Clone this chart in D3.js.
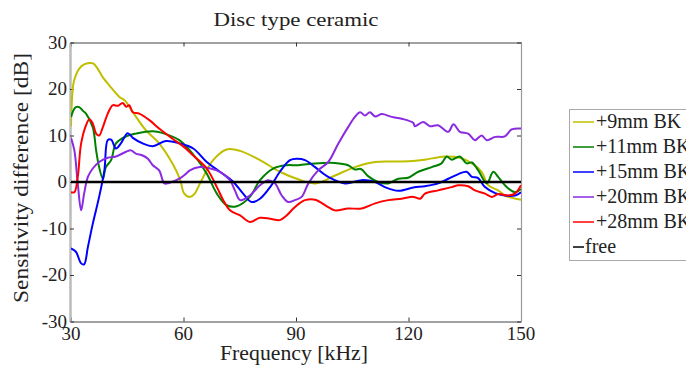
<!DOCTYPE html>
<html>
<head>
<meta charset="utf-8">
<script src="https://cdn.jsdelivr.net/npm/d3@7"></script>
<style>
  html, body { margin: 0; padding: 0; background: #fff; }
  svg { display: block; }
  text { font-family: "Liberation Serif", "Times New Roman", serif; fill: #222; }
</style>
</head>
<body>
<svg id="chart" width="686" height="367"></svg>
<script>
// Sensitivity difference vs frequency for a disc type ceramic transducer
const title = "Disc type ceramic";
const xLabel = "Frequency [kHz]";
const yLabel = "Sensitivity difference [dB]";
const xTicks = [30, 60, 90, 120, 150];
const yTicks = [30, 20, 10, 0, -10, -20, -30];

const seriesNames = ["+9mm BK", "+11mm BK", "+15mm BK", "+20mm BK", "+28mm BK", "free"];
const seriesColors = ["#bfbf00", "#008000", "#0000ff", "#8a2be2", "#ff0000", "#000000"];

// [frequency kHz, difference dB]
const bk9 = [
  [30,12],[30.6,21],[31.3,23],[32.2,24.4],[33.5,25.3],[34.9,25.6],[35.9,25.5],[37.1,24.4],
  [38.5,22.5],[40.2,20.8],[42.9,18.3],[44.4,17.5],[46.5,15],[50,11.1],[53.5,8.3],[57.1,3.9],
  [59.1,0.5],[60.2,-2.5],[61.7,-3.2],[63,-2.5],[64.4,-0.3],[67.9,4.7],[71.5,7],[75.1,6.7],
  [80.4,4.7],[85.7,2.2],[90.2,0.7],[95.1,-0.3],[100.4,1.4],[105.7,3.2],[111.1,4.3],[116.4,4.4],
  [121.2,4.5],[124.4,4.8],[129.7,5.5],[133.7,5.2],[136.9,4],[139.5,2.2],[141.3,-0.7],
  [143.9,-1.8],[145.7,-2.9],[150,-3.8]
];
const bk11 = [
  [30,14],[30.7,15.5],[31.3,16.1],[32.2,16.1],[33.2,15.3],[34,14.7],[35.8,11.8],[36.7,6.8],
  [37.5,3.2],[38.5,0.7],[39.3,3.2],[40.7,4.7],[42,8.3],[44.7,9.8],[47.3,10.4],[51.8,10.9],
  [55.3,10.3],[58.9,9],[63.5,5],[66.2,1.8],[68.9,-2.5],[71.5,-5],[74.2,-5.2],[77.7,-3.2],
  [80.4,0.4],[83.9,2.9],[87.5,3.6],[90.6,3.6],[95.1,4],[100.4,4.1],[103.9,3.6],[105.7,2.7],
  [107.3,2.8],[109.3,1.2],[111.9,0],[114.6,-0.3],[117.3,0.7],[119.9,0.9],[122.6,2.2],
  [126.2,3.2],[128.8,4],[130.2,5.5],[131.5,4.8],[133.7,5.5],[135.5,4],[136.9,4.2],[138.6,2.5],
  [140.9,-0.3],[142.6,2.2],[143.9,1.1],[146.2,-1.1],[148.4,-2.2],[150,-1.5]
];
const bk15 = [
  [30,-14.3],[31.3,-15],[32.7,-17.5],[33.5,-17.7],[34.5,-14],[35.8,-9],[37.5,-3.2],[38.9,2.5],
  [39.8,9],[40.7,9.1],[42,7.2],[43.3,8.3],[45.1,10.5],[46.5,9.5],[49.1,8.3],[51.8,7.7],
  [55.3,8.8],[58.9,8.3],[62.6,7.2],[66.2,4.3],[69.7,2.2],[73.3,0],[75.9,-2.5],[78.2,-4.3],
  [80.4,-3.6],[83.1,-1.1],[85.7,2.2],[88.4,4.7],[90.2,5],[92.4,4.7],[95.1,3.2],[98.6,1.1],
  [103.1,-0.3],[107.5,0.4],[111.1,0],[113.7,-1.1],[117.3,-1.9],[121.3,-1.2],[124.4,-0.9],
  [127.9,-0.3],[130.6,0.7],[133.3,1.7],[135.5,2.2],[136.9,1.1],[138.5,0.9],[140.4,-1.1],
  [143.1,-2.4],[145.7,-2.9],[148.4,-2.9],[150,-2.2]
];
const bk20 = [
  [30,9.5],[30.9,6.8],[31.8,-0.3],[32.7,-6.1],[33.5,-2.5],[34.5,1.1],[35.8,2.9],[37.5,4.3],
  [39.8,5.2],[42,5.5],[44.7,6.5],[46,6.8],[47.3,6.1],[49.1,5.7],[50.5,5],[51.8,3.6],
  [53.5,2.5],[54.9,-0.3],[56.1,-0.2],[58.9,0.7],[60.7,1.8],[61.7,2.5],[64.4,3.2],[67.1,2.9],
  [69.7,2.2],[72.4,0.4],[73.7,-1.8],[75.1,-3.9],[77.7,-2.9],[80.4,-0.7],[82.6,0.4],[84.4,-0.3],
  [86.2,-2.9],[87.9,-4.3],[89.7,-3.9],[91.5,-3.2],[93.3,-0.3],[95.9,2.5],[98.6,4.3],
  [101.3,8.3],[103.9,11.8],[105.7,14],[107.1,15],[108.4,14.3],[109.7,15],[111.1,14.1],
  [112.9,14.6],[115.5,14],[118.2,13.6],[121.3,12.7],[121.7,12],[123.9,12.9],[125.7,12],
  [127.9,12.2],[130.6,10.8],[132,12.4],[133.7,10.8],[135.9,10.4],[137.7,9],[139.5,10],
  [140.9,9],[143.1,9.7],[145.7,9.8],[147.5,11.3],[150,11.5]
];
const bk28 = [
  [30,-2.2],[30.9,-2.2],[31.8,1.1],[32.7,8.3],[34,12.2],[34.9,13.5],[35.8,12.6],[36.7,10.4],
  [37.5,10],[38.5,11.8],[39.8,14.7],[41.1,16.5],[42.5,16.4],[43.8,17],[44.7,16.2],[45.5,16.5],
  [46.5,15],[48.2,14.7],[50.9,13.3],[53.5,11.5],[57.1,9.3],[60.2,7.5],[62.6,5.7],[66.2,2.9],
  [68.9,-1.1],[70.6,-3.9],[72.4,-6.1],[75.1,-7.2],[77.7,-8.6],[80.4,-7.7],[83.1,-7.9],
  [85.7,-8.2],[87.5,-7.2],[89.3,-5.7],[91.1,-4.5],[92.4,-3.9],[95.1,-3.8],[98.6,-5.4],
  [100.4,-6.1],[103.9,-5.7],[107.5,-5.7],[111.1,-4.6],[114.6,-3.9],[118.2,-3.6],[121.3,-3.2],
  [123.1,-3.6],[124.4,-2.5],[127.9,-1.8],[131.5,-1.1],[133.3,-0.7],[135.9,-0.9],[137.7,-1.8],
  [140.4,-2.5],[142.2,-3.2],[143.9,-2.6],[146.5,-2.9],[148.4,-2.5],[150,-0.7]
];
const free = [[30,0],[150,0]];

const seriesData = [bk9, bk11, bk15, bk20, bk28, free];

const svg = d3.select("#chart");
const plot = { left: 71, right: 521, top: 42.5, bottom: 321.5 };

const x = d3.scaleLinear().domain([30, 150]).range([plot.left, plot.right]);
const y = d3.scaleLinear().domain([-30, 30]).range([plot.bottom, plot.top]);

// clip lines to the axes box
svg.append("defs").append("clipPath").attr("id", "plotClip")
  .append("rect")
  .attr("x", plot.left).attr("y", plot.top)
  .attr("width", plot.right - plot.left).attr("height", plot.bottom - plot.top);

// axes box with inward ticks on all four sides
const axisBottom = d3.axisBottom(x).tickValues(xTicks).tickSizeInner(-4).tickSizeOuter(0).tickFormat("");
const axisTop = d3.axisTop(x).tickValues(xTicks).tickSizeInner(-4).tickSizeOuter(0).tickFormat("");
const axisLeft = d3.axisLeft(y).tickValues(yTicks).tickSizeInner(-4).tickSizeOuter(0).tickFormat("");
const axisRight = d3.axisRight(y).tickValues(yTicks).tickSizeInner(-4).tickSizeOuter(0).tickFormat("");

function styleAxis(g, color, width) {
  g.selectAll(".domain").attr("stroke", color).attr("stroke-width", width);
  g.selectAll(".tick line").attr("stroke", "#333").attr("stroke-width", 1);
}
svg.append("g").attr("transform", `translate(0,${plot.bottom})`).call(axisBottom).call(g => styleAxis(g, "#444", 1.2));
svg.append("g").attr("transform", `translate(0,${plot.top})`).call(axisTop).call(g => styleAxis(g, "#444", 1.2));
svg.append("g").attr("transform", `translate(${plot.right},0)`).call(axisRight).call(g => styleAxis(g, "#999", 1.2));
svg.append("g").attr("transform", `translate(${plot.left - 1},0)`).call(axisLeft).call(g => styleAxis(g, "#bbb", 2.5));

// tick labels
svg.append("g").selectAll("text").data(xTicks).join("text")
  .attr("x", d => x(d)).attr("y", 340)
  .attr("text-anchor", "middle").attr("font-size", 19)
  .text(d => d);
svg.append("g").selectAll("text").data(yTicks).join("text")
  .attr("x", 67).attr("y", d => y(d) + 6)
  .attr("text-anchor", "end").attr("font-size", 19)
  .text(d => d);

// titles
svg.append("text").attr("x", 296).attr("y", 26).attr("text-anchor", "middle")
  .attr("font-size", 19).attr("textLength", 165).attr("lengthAdjust", "spacingAndGlyphs")
  .text(title);
svg.append("text").attr("x", 294).attr("y", 360).attr("text-anchor", "middle")
  .attr("font-size", 20).attr("textLength", 148).attr("lengthAdjust", "spacingAndGlyphs")
  .text(xLabel);
svg.append("text").attr("transform", `translate(28,178) rotate(-90)`)
  .attr("text-anchor", "middle").attr("font-size", 20)
  .attr("textLength", 250).attr("lengthAdjust", "spacingAndGlyphs")
  .text(yLabel);

// data lines
const line = d3.line().x(d => x(d[0])).y(d => y(d[1])).curve(d3.curveCatmullRom.alpha(0.5));
const lines = svg.append("g").attr("clip-path", "url(#plotClip)");
seriesData.forEach((data, i) => {
  lines.append("path")
    .datum(data)
    .attr("fill", "none")
    .attr("stroke", seriesColors[i])
    .attr("stroke-width", i === 5 ? 2.5 : 2)
    .attr("stroke-linejoin", "round")
    .attr("d", line);
});

// legend
const legend = svg.append("g");
legend.append("rect").attr("x", 569.5).attr("y", 109.5).attr("width", 130).attr("height", 151)
  .attr("fill", "#fff").attr("stroke", "#aaa").attr("stroke-width", 1);
seriesNames.forEach((name, i) => {
  const cy = 122 + i * 25;
  const isFree = i === 5;
  legend.append("line")
    .attr("x1", 573).attr("x2", isFree ? 584 : 594)
    .attr("y1", cy).attr("y2", cy)
    .attr("stroke", seriesColors[i]).attr("stroke-width", 1.5);
  legend.append("text")
    .attr("x", isFree ? 585 : 596).attr("y", cy + 6)
    .attr("font-size", 20).text(name);
});
</script>
</body>
</html>
